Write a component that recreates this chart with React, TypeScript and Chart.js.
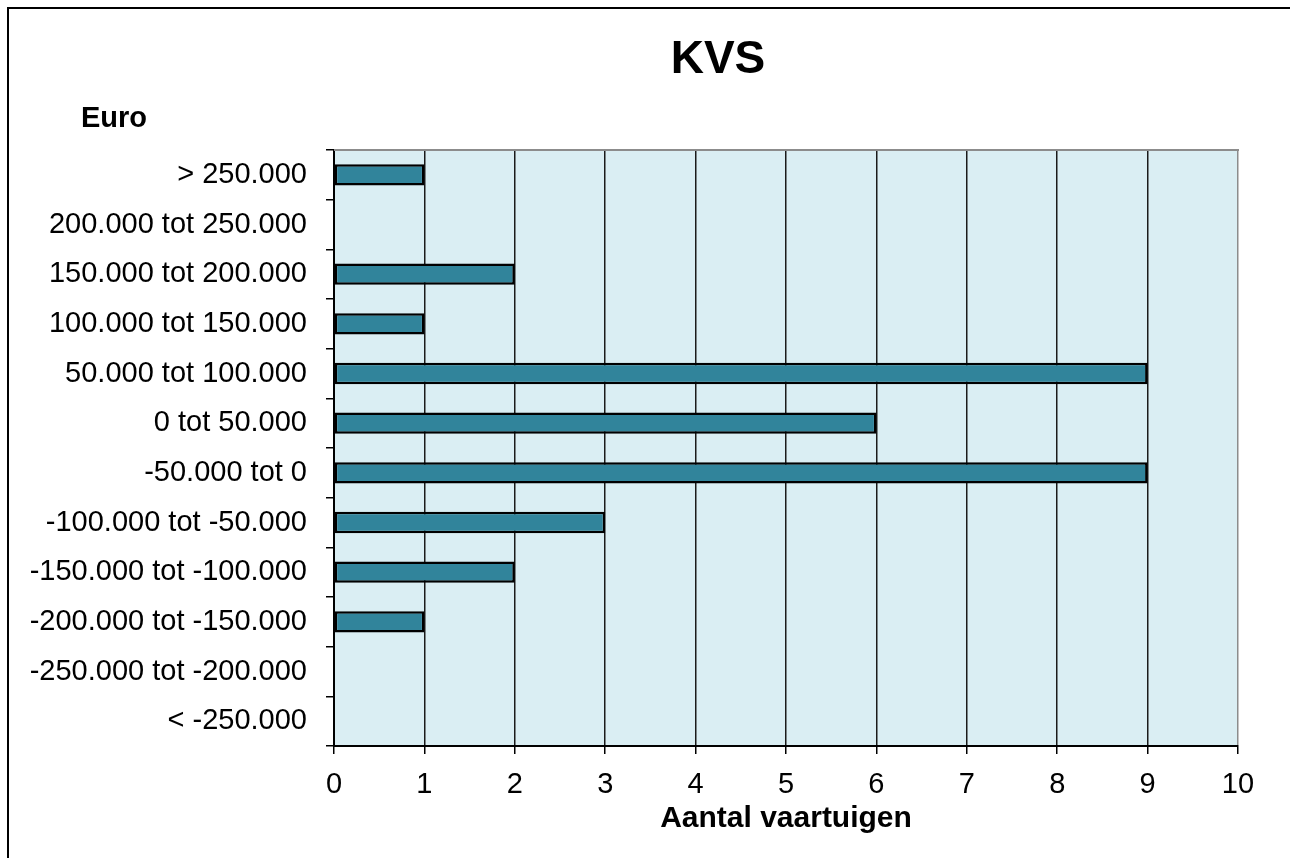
import React, { useEffect, useRef } from "react";
import { Chart, registerables } from "chart.js";

Chart.register(...registerables);

const categories: string[] = [
  "> 250.000",
  "200.000 tot 250.000",
  "150.000 tot 200.000",
  "100.000 tot 150.000",
  "50.000 tot 100.000",
  "0 tot 50.000",
  "-50.000 tot 0",
  "-100.000 tot -50.000",
  "-150.000 tot -100.000",
  "-200.000 tot -150.000",
  "-250.000 tot -200.000",
  "< -250.000",
];

const vessels: number[] = [1, 0, 2, 1, 9, 6, 9, 3, 2, 1, 0, 0];

const chartTitle = "KVS";
const yAxisLabel = "Euro";
const xAxisTitle = "Aantal vaartuigen";
const xMin = 0;
const xMax = 10;

const FONT = "'Liberation Sans', Arial, sans-serif";

export default function App() {
  const canvasRef = useRef<HTMLCanvasElement | null>(null);

  useEffect(() => {
    const canvas = canvasRef.current;
    if (!canvas) return;

    const decorPlugin = {
      id: "decor",
      beforeDraw(chart: any) {
        const { ctx, chartArea } = chart;
        ctx.save();
        ctx.fillStyle = "#DAEEF3";
        ctx.fillRect(
          chartArea.left,
          chartArea.top,
          chartArea.right - chartArea.left,
          chartArea.bottom - chartArea.top
        );
        ctx.restore();
      },
      afterDraw(chart: any) {
        const { ctx, chartArea } = chart;
        ctx.save();
        ctx.strokeStyle = "#8c8c8c";
        ctx.lineWidth = 2;
        ctx.beginPath();
        ctx.moveTo(chartArea.left, chartArea.top);
        ctx.lineTo(chartArea.right + 1, chartArea.top);
        ctx.stroke();
        ctx.fillStyle = "#000";
        ctx.textBaseline = "middle";
        ctx.font = `bold 46px ${FONT}`;
        ctx.textAlign = "center";
        ctx.fillText(chartTitle, 718, 60);
        ctx.font = `bold 29px ${FONT}`;
        ctx.textAlign = "left";
        ctx.fillText(yAxisLabel, 81, 119);
        ctx.restore();
      },
    };

    const chart = new Chart(canvas, {
      type: "bar",
      data: {
        labels: categories,
        datasets: [
          {
            label: "Aantal",
            data: vessels,
            backgroundColor: "#31849B",
            borderColor: "#000000",
            borderWidth: 2.5,
            borderSkipped: false,
            barPercentage: 0.43,
            categoryPercentage: 1,
          },
        ],
      },
      options: {
        indexAxis: "y",
        responsive: false,
        animation: false,
        layout: { padding: { top: 150, left: 0, right: 52, bottom: 0 } },
        plugins: {
          legend: { display: false },
          tooltip: { enabled: false },
          title: { display: false },
        },
        scales: {
          x: {
            type: "linear",
            min: xMin,
            max: xMax,
            position: "bottom",
            afterFit(scale: any) {
              scale.height = 112;
            },
            ticks: {
              stepSize: 1,
              color: "#000",
              padding: 14,
              font: { family: FONT, size: 29 },
            },
            grid: {
              color: (c: any) => (c.tick && c.tick.value === xMax ? "#8c8c8c" : "#1a1a1a"),
              lineWidth: 1.5,
              tickColor: "#000",
              tickLength: 8,
              drawTicks: true,
            },
            border: { display: true, color: "#000", width: 2 },
            title: {
              display: true,
              text: xAxisTitle,
              color: "#000",
              font: { family: FONT, size: 30, weight: "bold", lineHeight: 1.2 },
              padding: { top: 0, bottom: 21 },
            },
          },
          y: {
            type: "category",
            position: "left",
            afterFit(scale: any) {
              scale.width = 334;
            },
            ticks: {
              color: "#000",
              padding: 19,
              autoSkip: false,
              font: { family: FONT, size: 29 },
            },
            grid: {
              drawOnChartArea: false,
              drawTicks: true,
              tickLength: 8,
              color: "#000",
              tickColor: "#000",
              lineWidth: 1.5,
            },
            border: { display: true, color: "#000", width: 2 },
          },
        },
      },
      plugins: [decorPlugin],
    } as any);

    return () => {
      chart.destroy();
    };
  }, []);

  return (
    <div
      style={{
        position: "absolute",
        left: 0,
        top: 0,
        width: 1290,
        height: 858,
        overflow: "hidden",
        background: "#fff",
      }}
    >
      <div
        style={{
          position: "absolute",
          left: 7,
          top: 7,
          width: 1283,
          height: 851,
          boxSizing: "border-box",
          borderLeft: "2px solid #000",
          borderTop: "2px solid #000",
        }}
      />
      <canvas
        ref={canvasRef}
        width={1290}
        height={858}
        style={{ position: "absolute", left: 0, top: 0, width: 1290, height: 858 }}
      />
    </div>
  );
}
